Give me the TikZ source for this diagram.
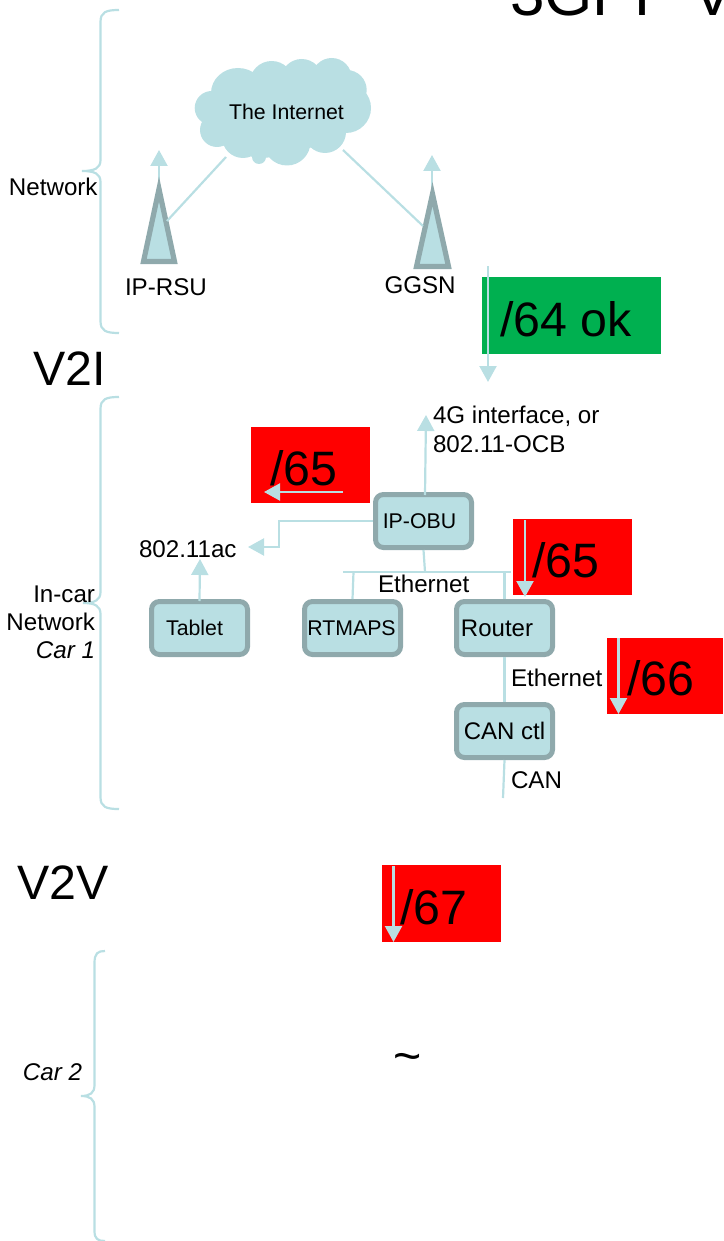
\documentclass[tikz,border=0pt]{standalone}
\usepackage{fontspec}
\setmainfont{Liberation Sans}
\usetikzlibrary{arrows.meta}
\definecolor{tealfill}{HTML}{B9DFE3}
\definecolor{tealedge}{HTML}{8FA9AC}
\definecolor{okgreen}{HTML}{00B050}
\tikzset{
  lbl/.style={inner sep=0pt,outer sep=0pt,anchor=base west,font=\fontsize{24.15}{28}\selectfont,text=black},
  biglbl/.style={lbl,font=\fontsize{48.3}{56}\selectfont},
  devbox/.style={draw=tealedge,fill=tealfill,line width=5pt,rounded corners=8pt,inner sep=0pt,
    minimum width=96pt,minimum height=53pt,align=center,text=black},
  smalltxt/.style={font=\fontsize{21.3}{25}\selectfont},
  midtxt/.style={font=\fontsize{24}{28}\selectfont},
  wire/.style={draw=tealfill,line width=2.2pt},
  arrowwire/.style={wire,-{Triangle[width=17pt,length=16pt,fill=tealfill]}},
  brace/.style={draw=tealfill,line width=2.2pt},
  antenna/.style={draw=tealedge,fill=tealfill,line width=5.2pt,line join=miter,miter limit=20},
  tag/.style={inner sep=0pt,outer sep=0pt}
}
\begin{document}
\begin{tikzpicture}[x=1pt,y=-1pt]
\useasboundingbox (0,0) rectangle (723,1241);
\clip (0,0) rectangle (723,1241);

% title
\node[lbl,font=\fontsize{62}{70}\selectfont] (title) at (510,16) {3GPP V};

% coloured tags
\fill[okgreen] (482,277) rectangle (660.5,354);
\fill[red] (250.5,426.5) rectangle (370,503);
\fill[red] (513,518.5) rectangle (632,595);
\fill[red] (607,637.5) rectangle (723,714);
\fill[red] (382,865) rectangle (501,942);
\node[biglbl] (t64) at (500,336) {/64 ok};
\node[biglbl] (t65a) at (270,485) {/65};
\node[biglbl] (t65b) at (532,577) {/65};
\node[biglbl] (t66) at (627,695) {/66};
\node[biglbl] (t67) at (400,924) {/67};

% cloud
\fill[tealfill]
  (211.7,108) circle (17pt) (238,93) ellipse (27pt and 25pt) (271.7,83) circle (22pt)
  (301.7,80) circle (21pt) (331.7,78) circle (20pt) (346.7,90) circle (20pt)
  (346,108) circle (25pt) (325,132) circle (21pt) (287,142) circle (23.5pt)
  (243,137) circle (21pt) (217,130) circle (17pt) (259,157) circle (7pt)
  (262,142) ellipse (26pt and 16pt) (300,140) ellipse (20pt and 9pt)
  (280,112) ellipse (60pt and 35pt);
\node[tag,smalltxt] (inet) at (286.5,112) {The Internet};

% antennas
\coordinate (rsuTip) at (159,150);
\coordinate (rsuBase) at (159,200);
\coordinate (ggsnTip) at (432,155);
\coordinate (ggsnBase) at (432,205);
\draw[arrowwire] (rsuBase) -- (rsuTip);
\draw[arrowwire] (ggsnBase) -- (ggsnTip);
\draw[antenna] (159,189) -- (174.5,261.5) -- (143.5,261.5) -- cycle;
\draw[antenna] (432.5,194) -- (448.5,266.5) -- (416.5,266.5) -- cycle;
\coordinate (rsuSide) at (167,221);
\coordinate (ggsnSide) at (423,226);
\coordinate (cloudL) at (226,157);
\coordinate (cloudR) at (343,150);
\draw[wire] (cloudL) -- (rsuSide);
\draw[wire] (cloudR) -- (ggsnSide);
\node[lbl] (rsu) at (125,295) {IP-RSU};
\node[lbl] (ggsn) at (384.5,293) {GGSN};

% devices
\node[devbox,smalltxt] (obu) at (423.5,521) {IP-OBU\hspace{8pt}};
\node[devbox,smalltxt] (tablet) at (199.5,628) {Tablet\hspace{10pt}};
\node[devbox,smalltxt] (rtmaps) at (352.5,628) {RTMAPS\hspace{2pt}};
\node[devbox,midtxt] (router) at (504.5,628) {Router\hspace{15pt}};
\node[devbox,midtxt] (canctl) at (504.5,731) {CAN ctl};

% connectors
\coordinate (g4) at (426,415);
\coordinate (ac) at (248,547);
\coordinate (busL) at (343,572);
\coordinate (busR) at (511,572);
\coordinate (canEnd) at (503,798);
\draw[arrowwire] (obu.north) ++(1.5,3) -- (g4);
\draw[wire,-{Triangle[width=17pt,length=16pt,fill=tealfill]}] (obu.west) -- (279,521) -- (279,547) -- (ac);
\draw[arrowwire] (tablet.north) ++(0,2) -- (200,559);
\draw[wire] (busL) -- (busR);
\draw[wire] (obu.south) -- (425,572);
\draw[wire] (rtmaps.north) -- (353.5,572);
\draw[wire] (router.north) -- (504.5,572);
\draw[wire] (router.south) -- (canctl.north);
\draw[wire] (canctl.south) -- (canEnd);

% address arrows
\coordinate (a1) at (488,266); \coordinate (a1e) at (488,382);
\coordinate (a2) at (343,492); \coordinate (a2e) at (264,492);
\coordinate (a3) at (525,520); \coordinate (a3e) at (525,597);
\coordinate (a4) at (618.5,638); \coordinate (a4e) at (618.5,714);
\coordinate (a5) at (393.5,866); \coordinate (a5e) at (393.5,942);
\draw[arrowwire] (a1) -- (a1e);
\draw[arrowwire] (a2) -- (a2e);
\draw[arrowwire] (a3) -- (a3e);
\draw[arrowwire] (a4) -- (a4e);
\draw[arrowwire] (a5) -- (a5e);

% braces
\draw[brace] (119,10) .. controls (106,10) and (100.5,12) .. (100.5,22) -- (100.5,160)
  .. controls (100.5,168) and (95,171) .. (82,171) .. controls (95,171) and (100.5,174) .. (100.5,182)
  -- (100.5,321) .. controls (100.5,331) and (106,333) .. (119,333);
\draw[brace] (119,397) .. controls (106,397) and (100.5,399) .. (100.5,409) -- (100.5,592)
  .. controls (100.5,600) and (95,603) .. (83,603) .. controls (95,603) and (100.5,606) .. (100.5,614)
  -- (100.5,797) .. controls (100.5,807) and (106,809) .. (119,809);
\draw[brace] (105,951) .. controls (98,951) and (94.5,953) .. (94.5,963) -- (94.5,1085)
  .. controls (94.5,1093) and (90,1096) .. (81,1096) .. controls (90,1096) and (94.5,1099) .. (94.5,1107)
  -- (94.5,1231) .. controls (94.5,1239) and (98,1241) .. (105,1241);

% labels
\node[lbl] (network) at (9,196) {Network};
\node[biglbl] (v2i) at (33,385) {V2I};
\node[biglbl] (v2v) at (17,899) {V2V};
\node[lbl,anchor=base east,align=right] (incar) at (95,602) {In-car};
\node[lbl,anchor=base east,align=right] (incarb) at (95,630) {Network};
\node[lbl,anchor=base east,align=right] (incarc) at (95,658) {\itshape Car 1};
\node[lbl] (car2) at (23,1080) {\itshape Car 2};
\node[lbl] (g4a) at (433,423) {4G interface, or};
\node[lbl] (g4b) at (433,452) {802.11-OCB};
\node[lbl] (acl) at (139,557) {802.11ac};
\node[lbl] (eth) at (378,592) {Ethernet};
\node[lbl] (eth2) at (511,686) {Ethernet};
\node[lbl] (can) at (511,788) {CAN};
\node[biglbl] (tilde) at (393,1072) {\textasciitilde};
\end{tikzpicture}
\end{document}
